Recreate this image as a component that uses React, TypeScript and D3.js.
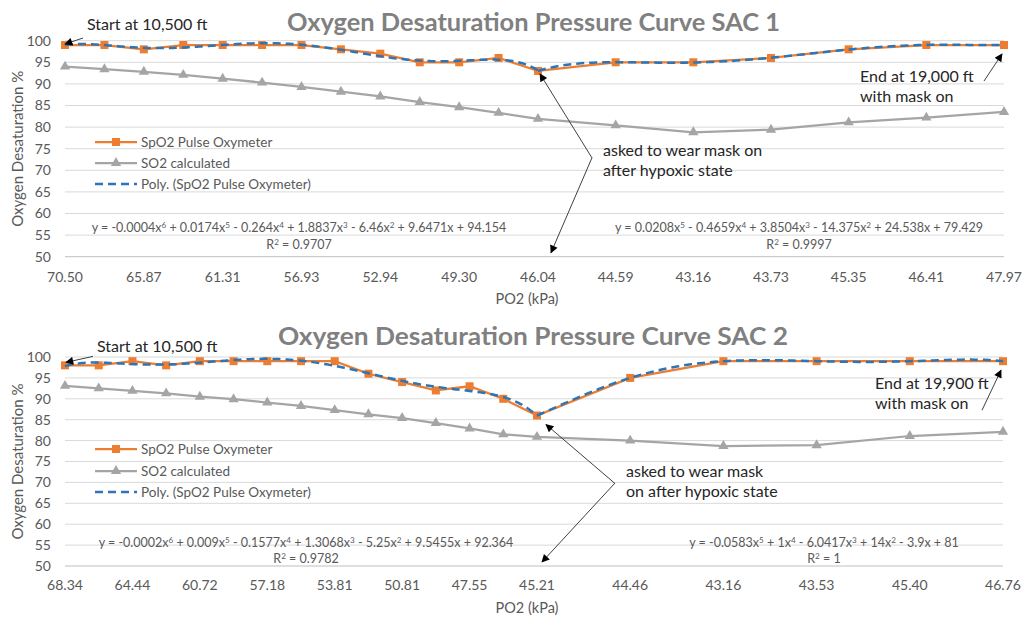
import React from "react";
import * as d3 from "d3";

// ---- SAC 1 ----
const sac1Ticks = ["70.50", "65.87", "61.31", "56.93", "52.94", "49.30", "46.04", "44.59", "43.16", "43.73", "45.35", "46.41", "47.97"];
const sac1SpO2Before = [99, 99, 98, 99, 99, 99, 99, 98, 97, 95, 95, 96, 93];
const sac1SpO2After = [93, 95, 95, 96, 98, 99, 99];
const sac1SO2Before = [94.0, 93.4, 92.8, 92.1, 91.2, 90.3, 89.3, 88.2, 87.1, 85.8, 84.6, 83.3, 81.9];
const sac1SO2After = [81.9, 80.4, 78.8, 79.4, 81.1, 82.2, 83.5];
const sac1EqBefore = ["y = -0.0004x^6 + 0.0174x^5 - 0.264x^4 + 1.8837x^3 - 6.46x^2 + 9.6471x + 94.154", "R^2 = 0.9707"];
const sac1EqAfter = ["y = 0.0208x^5 - 0.4659x^4 + 3.8504x^3 - 14.375x^2 + 24.538x + 79.429", "R^2 = 0.9997"];

// ---- SAC 2 ----
const sac2Ticks = ["68.34", "64.44", "60.72", "57.18", "53.81", "50.81", "47.55", "45.21", "44.46", "43.16", "43.53", "45.40", "46.76"];
const sac2SpO2Before = [98, 98, 99, 98, 99, 99, 99, 99, 99, 96, 94, 92, 93, 90, 86];
const sac2SpO2After = [86, 95, 99, 99, 99, 99];
const sac2SO2Before = [93.1, 92.5, 91.9, 91.3, 90.5, 89.9, 89.1, 88.3, 87.3, 86.3, 85.4, 84.2, 82.9, 81.5, 80.9];
const sac2SO2After = [80.9, 80.0, 78.7, 78.9, 81.1, 82.1];
const sac2EqBefore = ["y = -0.0002x^6 + 0.009x^5 - 0.1577x^4 + 1.3068x^3 - 5.25x^2 + 9.5455x + 92.364", "R^2 = 0.9782"];
const sac2EqAfter = ["y = -0.0583x^5 + 1x^4 - 6.0417x^3 + 14x^2 - 3.9x + 81", "R^2 = 1"];

const yTicks = [50, 55, 60, 65, 70, 75, 80, 85, 90, 95, 100];
const legendItems = ["SpO2 Pulse Oxymeter", "SO2 calculated", "Poly. (SpO2 Pulse Oxymeter)"];

const FONT = "Lato, 'Open Sans', sans-serif";
const ORANGE = "#ED7D31";
const GREY = "#A5A5A5";
const BLUE = "#2E75B6";
const TXT = "#595959";

// least squares polynomial fit on x = 1..n (same as Excel trendline)
function polyFit(ys: number[], deg: number) {
  const n = ys.length;
  const c = (n + 1) / 2;
  const s = Math.max((n - 1) / 2, 1);
  const m = deg + 1;
  const A: number[][] = Array.from({ length: m }, () => new Array(m + 1).fill(0));
  ys.forEach((y, i) => {
    const u = (i + 1 - c) / s;
    for (let r = 0; r < m; r++) {
      for (let k = 0; k < m; k++) A[r][k] += Math.pow(u, r + k);
      A[r][m] += y * Math.pow(u, r);
    }
  });
  for (let col = 0; col < m; col++) {
    let piv = col;
    for (let r = col + 1; r < m; r++) if (Math.abs(A[r][col]) > Math.abs(A[piv][col])) piv = r;
    [A[col], A[piv]] = [A[piv], A[col]];
    for (let r = 0; r < m; r++) {
      if (r === col) continue;
      const f = A[r][col] / A[col][col];
      for (let k = col; k <= m; k++) A[r][k] -= f * A[col][k];
    }
  }
  const coef = A.map((row, i) => row[m] / row[i]);
  return (x: number) => {
    const u = (x - c) / s;
    return coef.reduce((acc, a, i) => acc + a * Math.pow(u, i), 0);
  };
}

// "x^6" -> superscript tspans
function SupText({ text, size }: { text: string; size: number }) {
  const parts = text.split(/\^(\d)/);
  return (
    <>
      {parts.map((p, i) =>
        i % 2 === 1 ? (
          <tspan key={i} dy={-4} fontSize={size * 0.65}>{p}</tspan>
        ) : (
          <tspan key={i} dy={i === 0 ? 0 : 4}>{p}</tspan>
        )
      )}
    </>
  );
}

interface Arrow {
  at: [number, number];
  tip: [number, number];
  tail: [number, number];
}

interface PanelProps {
  title: string;
  titleBox: [number, number, number];
  yRange: [number, number];
  xRange: [number, number, number];
  ticks: string[];
  tickY: number;
  axisTitleY: number;
  spo2Before: number[];
  spo2After: number[];
  so2Before: number[];
  so2After: number[];
  eqBefore: string[];
  eqAfter: string[];
  eqPos: [number, number, number, number];
  legendY: number[];
  notes: { lines: string[]; x: number; y: number }[];
  arrows: Arrow[];
}

function Panel(p: PanelProps) {
  const nL = p.spo2Before.length;
  const nR = p.spo2After.length;
  const x = d3.scaleLinear().domain([0, nL - 1, nL - 1 + nR - 1]).range(p.xRange);
  const y = d3.scaleLinear().domain([50, 100]).range([p.yRange[1], p.yRange[0]]);

  const spo2 = p.spo2Before.concat(p.spo2After.slice(1));
  const so2 = p.so2Before.concat(p.so2After.slice(1));
  const line = d3.line<number>().x((_, i) => x(i)).y((d) => y(d));

  const fitL = polyFit(p.spo2Before, 6);
  const fitR = polyFit(p.spo2After, 5);
  const sample = (f: (t: number) => number, n: number, off: number) =>
    d3.range(1, n + 0.001, 0.05).map((t) => [x(off + t - 1), y(f(t))] as [number, number]);
  const trendL = d3.line()(sample(fitL, nL, 0));
  const trendR = d3.line()(sample(fitR, nR, nL - 1));

  const tickIdx = [
    ...d3.range(0, nL, 2),
    ...d3.range(nL, nL + nR - 1),
  ];

  const tri = d3.symbol(d3.symbolTriangle, 46)();
  const [x0, , x1] = p.xRange;

  return (
    <g>
      <text
        x={p.titleBox[0]}
        y={p.titleBox[2]}
        textLength={p.titleBox[1] - p.titleBox[0]}
        lengthAdjust="spacingAndGlyphs"
        fontFamily={FONT}
        fontWeight="bold"
        fontSize={25}
        fill="#808080"
      >
        {p.title}
      </text>

      {yTicks.map((t) => (
        <g key={t}>
          <line x1={x0} x2={x1} y1={y(t)} y2={y(t)} stroke={t === 50 ? "#bfbfbf" : "#d9d9d9"} strokeWidth={1} />
          <text x={51} y={y(t)} dy="0.35em" textAnchor="end" fontFamily={FONT} fontSize={14} fill={TXT}>
            {t}
          </text>
        </g>
      ))}

      {tickIdx.map((idx, i) => (
        <text key={idx} x={x(idx)} y={p.tickY} textAnchor="middle" fontFamily={FONT} fontSize={14} fill={TXT}>
          {p.ticks[i]}
        </text>
      ))}

      <text x={527} y={p.axisTitleY} textAnchor="middle" fontFamily={FONT} fontSize={14.5} fill={TXT}>
        PO2 (kPa)
      </text>
      <text
        transform={`translate(23,${(p.yRange[0] + p.yRange[1]) / 2}) rotate(-90)`}
        textAnchor="middle"
        fontFamily={FONT}
        fontSize={15}
        fill={TXT}
      >
        Oxygen Desaturation %
      </text>

      {/* series */}
      <path d={line(so2) ?? ""} fill="none" stroke={GREY} strokeWidth={2.25} />
      {so2.map((v, i) => (
        <path key={i} d={tri} transform={`translate(${x(i)},${y(v)})`} fill={GREY} />
      ))}
      <path d={line(spo2) ?? ""} fill="none" stroke={ORANGE} strokeWidth={2.25} />
      {spo2.map((v, i) => (
        <rect key={i} x={x(i) - 4} y={y(v) - 4} width={8} height={8} fill={ORANGE} />
      ))}
      <path d={trendL ?? ""} fill="none" stroke={BLUE} strokeWidth={2.5} strokeDasharray="8,5" />
      <path d={trendR ?? ""} fill="none" stroke={BLUE} strokeWidth={2.5} strokeDasharray="8,5" />

      {/* legend */}
      {legendItems.map((name, i) => {
        const ly = p.legendY[i];
        return (
          <g key={name}>
            {i === 0 && (
              <>
                <line x1={95} x2={137} y1={ly} y2={ly} stroke={ORANGE} strokeWidth={2.25} />
                <rect x={112} y={ly - 4} width={8} height={8} fill={ORANGE} />
              </>
            )}
            {i === 1 && (
              <>
                <line x1={95} x2={137} y1={ly} y2={ly} stroke={GREY} strokeWidth={2.25} />
                <path d={tri} transform={`translate(116,${ly})`} fill={GREY} />
              </>
            )}
            {i === 2 && <line x1={95} x2={137} y1={ly} y2={ly} stroke={BLUE} strokeWidth={2.5} strokeDasharray="8,5" />}
            <text x={141} y={ly} dy="0.35em" fontFamily={FONT} fontSize={13.5} fill={TXT}>
              {name}
            </text>
          </g>
        );
      })}

      {/* trendline equations */}
      {[p.eqBefore, p.eqAfter].map((eq, k) => (
        <g key={k}>
          {eq.map((s, j) => (
            <text
              key={j}
              x={k === 0 ? p.eqPos[0] : p.eqPos[1]}
              y={j === 0 ? p.eqPos[2] : p.eqPos[3]}
              textAnchor="middle"
              fontFamily={FONT}
              fontSize={12.5}
              fill={TXT}
            >
              <SupText text={s} size={12.5} />
            </text>
          ))}
        </g>
      ))}

      {/* annotations */}
      {p.notes.map((n, i) => (
        <text key={i} x={n.x} y={n.y} fontFamily={FONT} fontSize={16} fill="#262626">
          {n.lines.map((l, j) => (
            <tspan key={j} x={n.x} dy={j === 0 ? 0 : 20}>
              {l}
            </tspan>
          ))}
        </text>
      ))}
      {p.arrows.map((a, i) => {
        const px = x(a.at[0]);
        const py = y(a.at[1]);
        return (
          <line
            key={i}
            x1={px + a.tail[0]}
            y1={py + a.tail[1]}
            x2={px + a.tip[0]}
            y2={py + a.tip[1]}
            stroke="#404040"
            strokeWidth={1}
            markerEnd="url(#arrowHead)"
          />
        );
      })}
    </g>
  );
}

export default function App() {
  return (
    <svg
      width={1029}
      height={617}
      style={{ position: "absolute", left: 0, top: 0, background: "#fff" }}
    >
      <defs>
        <marker
          id="arrowHead"
          viewBox="0 0 10 10"
          refX={9}
          refY={5}
          markerWidth={11}
          markerHeight={8}
          markerUnits="userSpaceOnUse"
          orient="auto"
        >
          <path d="M0,0 L10,5 L0,10 z" fill="#000" />
        </marker>
      </defs>
      <Panel
        title="Oxygen Desaturation Pressure Curve SAC 1"
        titleBox={[287, 780, 31]}
        yRange={[40.7, 256.7]}
        xRange={[65, 538, 1004]}
        ticks={sac1Ticks}
        tickY={282}
        axisTitleY={304}
        spo2Before={sac1SpO2Before}
        spo2After={sac1SpO2After}
        so2Before={sac1SO2Before}
        so2After={sac1SO2After}
        eqBefore={sac1EqBefore}
        eqAfter={sac1EqAfter}
        eqPos={[299, 799, 232, 249]}
        legendY={[142, 163, 184]}
        notes={[
          { lines: ["Start at 10,500 ft"], x: 87, y: 30 },
          { lines: ["End at 19,000 ft", "with mask on"], x: 860, y: 82 },
          { lines: ["asked to wear mask on", "after hypoxic state"], x: 603, y: 156 },
        ]}
        arrows={[
          { at: [0, 99], tip: [0, -1], tail: [18, -7] },
          { at: [18, 99], tip: [-2, 9], tail: [-20, 36] },
          { at: [12, 93], tip: [2, 3], tail: [54, 87] },
          { at: [12, 50], tip: [13, -4], tail: [54, -99] },
        ]}
      />
      <Panel
        title="Oxygen Desaturation Pressure Curve SAC 2"
        titleBox={[278, 788, 345]}
        yRange={[357, 566]}
        xRange={[65, 537, 1003]}
        ticks={sac2Ticks}
        tickY={590}
        axisTitleY={613}
        spo2Before={sac2SpO2Before}
        spo2After={sac2SpO2After}
        so2Before={sac2SO2Before}
        so2After={sac2SO2After}
        eqBefore={sac2EqBefore}
        eqAfter={sac2EqAfter}
        eqPos={[306, 824, 547, 563]}
        legendY={[449, 471, 492]}
        notes={[
          { lines: ["Start at 10,500 ft"], x: 97, y: 352 },
          { lines: ["End at 19,900 ft", "with mask on"], x: 875, y: 389 },
          { lines: ["asked to wear mask", "on after hypoxic state"], x: 626, y: 477 },
        ]}
        arrows={[
          { at: [0, 98], tip: [1, -3], tail: [28, -9] },
          { at: [19, 99], tip: [-2, 9], tail: [-21, 49] },
          { at: [14, 86], tip: [9, 9], tail: [78, 68] },
          { at: [14, 50], tip: [5, -4], tail: [78, -83] },
        ]}
      />
    </svg>
  );
}
